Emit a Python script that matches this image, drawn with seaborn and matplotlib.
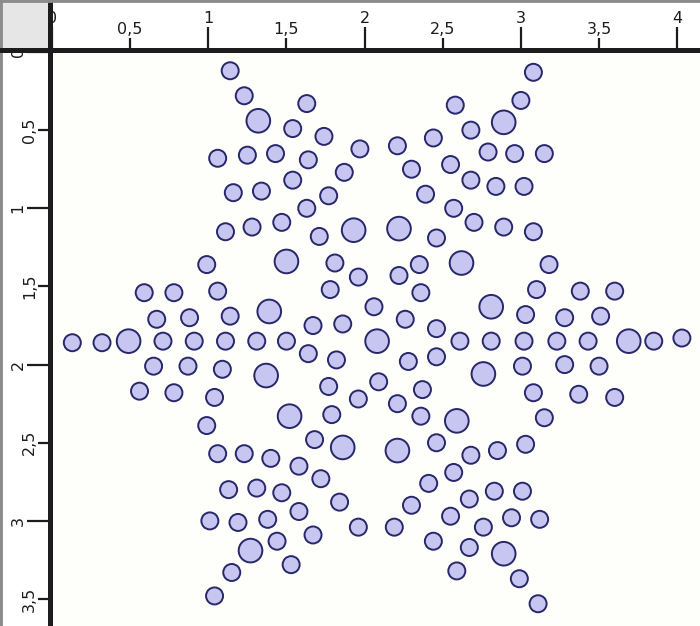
import matplotlib
matplotlib.use("Agg")
import matplotlib.pyplot as plt
import seaborn as sns
import pandas as pd

# ---- data (ruler units) ----
x_vals = [1.14, 1.23, 1.32, 1.63, 1.54, 1.74, 1.06, 1.25, 1.43, 1.64, 1.97, 1.16, 1.34, 1.54, 1.87, 1.77,
          1.11, 1.28, 1.47, 1.63, 1.71, 1.93, 0.99, 1.50, 1.81, 1.96, 1.78, 1.39, 1.67, 1.86, 0.59, 0.78,
          1.06, 0.67, 0.88, 1.14,
          0.13, 0.32, 0.49, 0.71, 0.91, 1.11, 1.31, 1.50, 2.08, 2.61, 2.81, 3.02, 3.23, 3.43, 3.69, 3.85, 4.03,
          3.08, 3.00, 2.89, 2.58, 2.68, 2.44, 2.21, 2.79, 2.96, 3.15, 2.30, 2.55, 2.68, 2.84, 3.02, 2.39,
          2.57, 2.70, 2.89, 3.08, 2.22, 2.46, 2.62, 2.35, 2.22, 3.18, 2.36, 3.10, 3.38, 3.60, 2.06, 2.81,
          3.03, 3.28, 3.51, 2.26, 2.46,
          0.65, 0.87, 1.09, 1.37, 0.56, 0.78, 1.04, 0.99, 1.06, 1.23, 1.40, 1.13, 1.31, 1.01, 1.19, 1.38,
          1.27, 1.15, 1.04, 1.64, 1.82, 1.77, 1.96, 1.52, 1.79, 1.68, 1.86, 1.58, 1.72, 1.47, 1.84, 1.58,
          1.96, 1.67, 1.44, 1.53,
          2.28, 2.46, 2.09, 2.37, 2.21, 2.36, 2.59, 2.21, 2.46, 2.76, 3.01, 3.28, 3.50, 3.08, 3.37, 3.60,
          3.15, 2.85, 3.03, 2.68, 2.57, 2.41, 2.83, 3.01, 2.67, 2.30, 2.55, 2.94, 3.12, 2.76, 2.19, 2.44,
          2.67, 2.89, 2.59, 2.99, 3.11]
y_vals = [0.12, 0.28, 0.44, 0.33, 0.49, 0.54, 0.68, 0.66, 0.65, 0.69, 0.62, 0.90, 0.89, 0.82, 0.77, 0.92,
          1.15, 1.12, 1.09, 1.00, 1.18, 1.14, 1.36, 1.34, 1.35, 1.44, 1.52, 1.66, 1.75, 1.74, 1.54, 1.54,
          1.53, 1.71, 1.70, 1.69,
          1.86, 1.86, 1.85, 1.85, 1.85, 1.85, 1.85, 1.85, 1.85, 1.85, 1.85, 1.85, 1.85, 1.85, 1.85, 1.85, 1.83,
          0.13, 0.31, 0.45, 0.34, 0.50, 0.55, 0.60, 0.64, 0.65, 0.65, 0.75, 0.72, 0.82, 0.86, 0.86, 0.91,
          1.00, 1.09, 1.12, 1.15, 1.13, 1.19, 1.35, 1.36, 1.43, 1.36, 1.54, 1.52, 1.53, 1.53, 1.63, 1.63,
          1.68, 1.70, 1.69, 1.71, 1.77,
          2.01, 2.01, 2.03, 2.07, 2.17, 2.18, 2.21, 2.39, 2.57, 2.57, 2.60, 2.80, 2.79, 3.00, 3.01, 2.99,
          3.19, 3.33, 3.48, 1.93, 1.97, 2.14, 2.22, 2.33, 2.32, 2.48, 2.53, 2.65, 2.73, 2.82, 2.88, 2.94,
          3.04, 3.09, 3.13, 3.28,
          1.98, 1.95, 2.11, 2.16, 2.25, 2.33, 2.36, 2.55, 2.50, 2.06, 2.01, 2.00, 2.01, 2.18, 2.19, 2.21,
          2.34, 2.55, 2.51, 2.58, 2.69, 2.76, 2.81, 2.81, 2.86, 2.90, 2.97, 2.98, 2.99, 3.04, 3.04, 3.13,
          3.17, 3.21, 3.32, 3.37, 3.53]
S, L = "small", "large"
kind = [S, S, L, S, S, S, S, S, S, S, S, S, S, S, S, S,
        S, S, S, S, S, L, S, L, S, S, S, L, S, S, S, S,
        S, S, S, S,
        S, S, L, S, S, S, S, S, L, S, S, S, S, S, L, S, S,
        S, S, L, S, S, S, S, S, S, S, S, S, S, S, S, S,
        S, S, S, S, L, S, L, S, S, S, S, S, S, S, S, L,
        S, S, S, S, S,
        S, S, S, L, S, S, S, S, S, S, S, S, S, S, S, S,
        L, S, S, S, S, S, S, L, S, S, L, S, S, S, S, S,
        S, S, S, S,
        S, S, S, S, S, S, L, L, S, L, S, S, S, S, S, S,
        S, S, S, S, S, S, S, S, S, S, S, S, S, S, S, S,
        S, L, S, S, S]

x_major_ticks = [0, 1, 2, 3, 4]
x_major_labels = ["0", "1", "2", "3", "4"]
y_major_ticks = [0, 1, 2, 3]
y_major_labels = ["0", "1", "2", "3"]
minor_ticks = [0.5, 1.5, 2.5, 3.5]
minor_labels = ["0,5", "1,5", "2,5", "3,5"]

df = pd.DataFrame({"x": x_vals, "y": y_vals, "kind": kind})

sns.set_theme(style="white")
plt.rcParams["font.family"] = ["DejaVu Sans"]

W, H = 700, 626
PPU = 156.3          # pixels per ruler unit
OX, OY = 52, 52      # pixel position of the ruler origin
AX_L, AX_T = 50, 50  # pixel position of the thick ruler lines

fig = plt.figure(figsize=(W / 100, H / 100), dpi=100)
fig.patch.set_facecolor("white")

# background frame (gray outer border)
bg = fig.add_axes([0, 0, 1, 1], zorder=-5)
bg.set_facecolor("white")
bg.set_xticks([]); bg.set_yticks([])
for s in ["right", "bottom"]:
    bg.spines[s].set_visible(False)
for s in ["top", "left"]:
    bg.spines[s].set_color("#8c8c8c")
    bg.spines[s].set_linewidth(3.5)

ax = fig.add_axes([AX_L / W, 0, (W - AX_L) / W, (H - AX_T) / H])
ax.set_facecolor("#fefefb")

sns.scatterplot(data=df, x="x", y="y", size="kind", sizes={"small": 150, "large": 290},
                color="#c6c6f0", edgecolor="#27276a", linewidth=1.4, legend=False,
                ax=ax, zorder=3)
ax.set_xlabel(""); ax.set_ylabel("")

for s in ["right", "bottom"]:
    ax.spines[s].set_visible(False)
for s in ["top", "left"]:
    ax.spines[s].set_color("#1c1c1c")
    ax.spines[s].set_linewidth(3.6)

ax.xaxis.tick_top()
ax.set_xticks(x_major_ticks, labels=x_major_labels)
ax.set_xticks(minor_ticks, labels=minor_labels, minor=True)
ax.set_yticks(y_major_ticks, labels=y_major_labels)
ax.set_yticks(minor_ticks, labels=minor_labels, minor=True)

# limits after ticks so that set_*ticks cannot widen them
ax.set_xlim((AX_L - OX) / PPU, (W - OX) / PPU)
ax.set_ylim((H - OY) / PPU, (AX_T - OY) / PPU)

ax.tick_params(axis="both", which="major", direction="out", length=16.5, width=1.6,
               color="#1c1c1c", labelsize=11.5, labelcolor="#1c1c1c", pad=1.0)
ax.tick_params(axis="both", which="minor", direction="out", length=8.5, width=1.6,
               color="#1c1c1c", labelsize=11.5, labelcolor="#1c1c1c", pad=1.0)
ax.tick_params(axis="x", which="both", top=True, bottom=False, labeltop=True, labelbottom=False)
ax.tick_params(axis="y", which="both", left=True, right=False, labelleft=True, labelright=False,
               labelrotation=90)
for lab in ax.get_yticklabels(which="both"):
    lab.set_va("center")

# corner box
corner = fig.add_axes([0, (H - AX_T) / H, AX_L / W, AX_T / H], zorder=5)
corner.set_facecolor("#e6e6e6")
corner.set_xticks([]); corner.set_yticks([])
for s in ["bottom", "right"]:
    corner.spines[s].set_color("#1c1c1c")
    corner.spines[s].set_linewidth(3.6)
for s in ["top", "left"]:
    corner.spines[s].set_color("#8c8c8c")
    corner.spines[s].set_linewidth(3.5)

fig.savefig("out.png", dpi=100, facecolor="white")
